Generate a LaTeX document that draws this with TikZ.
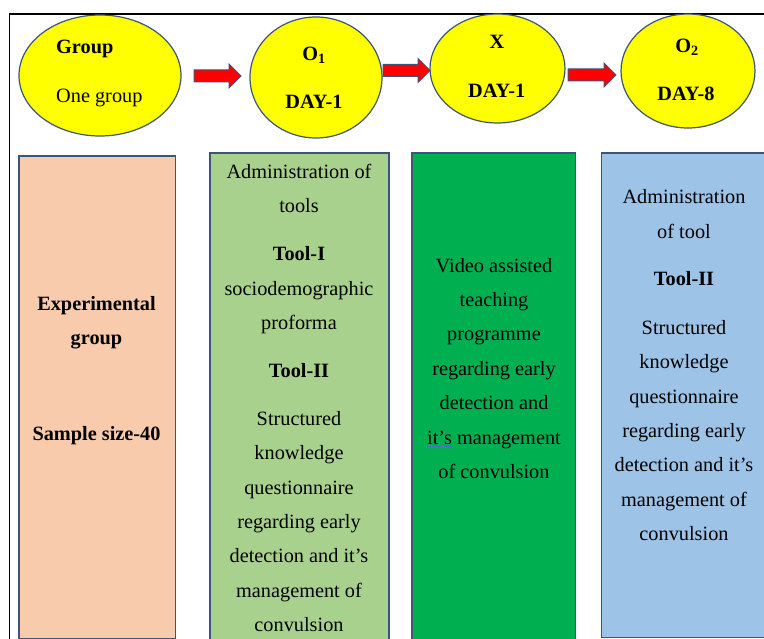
\documentclass[tikz,border=0pt]{standalone}
\usepackage{fontspec}
\setmainfont{Liberation Serif}
\definecolor{ellyellow}{HTML}{FFFF00}
\definecolor{arrred}{HTML}{FF0000}
\definecolor{edgeblue}{HTML}{3E5479}
\definecolor{peach}{HTML}{F8CBAD}
\definecolor{lgreen}{HTML}{A9D18E}
\definecolor{dgreen}{HTML}{00B050}
\definecolor{lblue}{HTML}{9DC3E6}
\definecolor{spellblue}{HTML}{4472C4}
\tikzset{
  ell/.style={ellipse, draw=edgeblue, line width=1.2pt, fill=ellyellow, inner sep=0pt},
  box/.style={draw=edgeblue, line width=1.2pt},
  barrow/.style={draw=edgeblue, line width=1pt, fill=arrred, line join=miter},
  ln/.style={anchor=base, inner sep=0pt, font=\fontsize{20.3}{24}\selectfont},
  frame/.style={draw=black, line width=1.5pt}
}
\newcommand{\myblockarrow}[4]{% x0, xhead, x1, yc
  \path[barrow] (#1,#4-6) -- (#2,#4-6) -- (#2,#4-12) -- (#3,#4) -- (#2,#4+12) -- (#2,#4+6) -- (#1,#4+6) -- cycle;
}
\usetikzlibrary{shapes.geometric}
\begin{document}
\begin{tikzpicture}[x=1pt,y=-1pt]
\useasboundingbox (0,0) rectangle (764,639);
\clip (0,0) rectangle (764,639);
% frame
\coordinate (ftl) at (9.5,14);
\coordinate (ftr) at (770,14);
\coordinate (fbl) at (9.5,639);
\draw[frame] (ftr) -- (ftl) -- (fbl);
% ellipses
\node[ell, minimum width=162pt, minimum height=121pt] (e1) at (100,75.5) {};
\node[ell, minimum width=132pt, minimum height=121pt] (e2) at (316,77.5) {};
\node[ell, minimum width=135pt, minimum height=109pt] (e3) at (497.5,68.5) {};
\node[ell, minimum width=134pt, minimum height=114pt] (e4) at (688,71) {};
% ellipse texts
\node[ln, anchor=base west] (t1a) at (56,54) {\textbf{Group}};
\node[ln, anchor=base west] (t1b) at (56,102.7) {One group};
\node[ln] (t2a) at (314,60.5) {\textbf{O\textsubscript{1}}};
\node[ln] (t2b) at (314,109) {\textbf{DAY-1}};
\node[ln] (t3a) at (497,49) {\textbf{X}};
\node[ln] (t3b) at (496.7,97.5) {\textbf{DAY-1}};
\node[ln] (t4a) at (687,52.5) {\textbf{O\textsubscript{2}}};
\node[ln] (t4b) at (686,100.5) {\textbf{DAY-8}};
% block arrows
\myblockarrow{194}{229}{241}{76}
\myblockarrow{383}{418}{430}{70.5}
\myblockarrow{568}{604}{616}{75}
% boxes
\path[box, fill=peach] (19,156) rectangle (175.7,638.7);
\path[box, fill=lgreen] (210,153) rectangle (389,645);
\path[box, fill=dgreen] (412,153) rectangle (575.7,645);
\path[box, fill=lblue] (601.7,153) rectangle (775,637.7);
% box 1 text
\foreach \t/\y [count=\i] in {{\textbf{Experimental}}/310.5, {\textbf{group}}/344.5, {\textbf{Sample size-40}}/440.5}
  \node[ln] (ba\i) at (96.5,\y) {\t};
% box 2 text
\foreach \t/\y [count=\i] in {{Administration of}/178.5, {tools}/212.5, {\textbf{Tool-I}}/260.5,
   {sociodemographic}/295.5, {proforma}/329.5, {\textbf{Tool-II}}/377.5, {Structured}/425.5,
   {knowledge}/459.5, {questionnaire}/494.3, {regarding early}/528.5, {detection and it’s}/562.7,
   {management of}/597, {convulsion}/631.5}
  \node[ln] (bb\i) at (299,\y) {\t};
% box 3 text
\foreach \t/\y [count=\i] in {{Video assisted}/272.5, {teaching}/306.8, {programme}/341,
   {regarding early}/375.3, {detection and}/409.6, {it’s management}/444.5, {of convulsion}/478.8}
  \node[ln] (bc\i) at (494,\y) {\t};
\draw[spellblue, line width=1pt] (bc6.base west) ++(0,2) coordinate (ul1) -- ++(25,0) coordinate (ul2);
% box 4 text
\foreach \t/\y [count=\i] in {{Administration}/203.5, {of tool}/238.5, {\textbf{Tool-II}}/285.7,
   {Structured}/334.5, {knowledge}/368.8, {questionnaire}/403.1, {regarding early}/437.4,
   {detection and it’s}/471.7, {management of}/506.3, {convulsion}/540}
  \node[ln] (bd\i) at (684,\y) {\t};
\end{tikzpicture}
\end{document}
